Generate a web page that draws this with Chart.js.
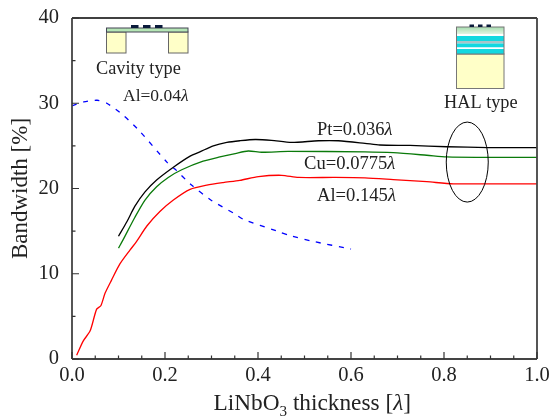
<!DOCTYPE html>
<html>
<head>
<meta charset="utf-8">
<script src="https://cdn.jsdelivr.net/npm/chart.js@4/dist/chart.umd.min.js"></script>
<style>
html, body { margin: 0; padding: 0; background: #fff; }
#wrap { width: 552px; height: 416px; }
</style>
</head>
<body>
<div id="wrap"><canvas id="bwChart" width="552" height="416"></canvas></div>
<script>
// values
let ptX = [0.1, 0.118, 0.135, 0.157, 0.182, 0.218, 0.254, 0.275, 0.304, 0.333, 0.361, 0.394, 0.429, 0.472, 0.53, 0.573, 0.63, 0.662, 0.727, 0.806, 0.895, 1.0];
let ptY = [14.4, 16.1, 17.9, 19.6, 21.0, 22.5, 23.8, 24.3, 25.0, 25.4, 25.6, 25.75, 25.65, 25.4, 25.6, 25.6, 25.3, 25.1, 25.05, 24.9, 24.8, 24.8];

let cuX = [0.1, 0.11, 0.135, 0.157, 0.182, 0.207, 0.236, 0.282, 0.318, 0.351, 0.379, 0.408, 0.465, 0.63, 0.691, 0.763, 0.806, 0.895, 1.0];
let cuY = [13.0, 14.0, 16.6, 18.65, 20.2, 21.3, 22.2, 23.2, 23.7, 24.1, 24.4, 24.25, 24.35, 24.3, 24.2, 23.9, 23.7, 23.65, 23.65];

let alX = [0.01, 0.024, 0.039, 0.053, 0.062, 0.071, 0.085, 0.103, 0.125, 0.139, 0.161, 0.189, 0.218, 0.254, 0.29, 0.325, 0.361, 0.401, 0.451, 0.487, 0.566, 0.63, 0.691, 0.763, 0.82, 1.0];
let alY = [0.43, 2.1, 3.3, 5.85, 6.25, 7.7, 9.25, 11.15, 12.8, 13.8, 15.6, 17.3, 18.65, 19.9, 20.4, 20.7, 20.95, 21.4, 21.55, 21.3, 21.3, 21.25, 21.05, 20.8, 20.55, 20.55];

let cavX = [0.0, 0.025, 0.054, 0.075, 0.11, 0.146, 0.204, 0.222, 0.257, 0.3, 0.351, 0.368, 0.441, 0.467, 0.518, 0.6];
let cavY = [29.7, 30.15, 30.35, 30.0, 28.6, 26.7, 23.1, 22.25, 20.4, 18.6, 17.0, 16.4, 15.0, 14.5, 13.8, 12.9];

let xMajor = [0, 0.2, 0.4, 0.6, 0.8, 1.0];
let yMajor = [0, 10, 20, 30, 40];

const SERIF = '"Liberation Serif", "Times New Roman", serif';
const INK = '#222';

function pts(xs, ys) {
    return xs.map(function (x, i) { return { x: x, y: ys[i] }; });
}

// text made of pieces: plain, italic lambda, subscript
function drawRuns(ctx, runs, x, y, size) {
    ctx.textAlign = 'left';
    ctx.textBaseline = 'alphabetic';
    ctx.fillStyle = INK;
    runs.forEach(function (r) {
        let s = r.sub ? size * 0.65 : size;
        ctx.font = (r.it ? 'italic ' : '') + s + 'px ' + SERIF;
        ctx.fillText(r.t, x, r.sub ? y + size * 0.25 : y);
        x += ctx.measureText(r.t).width;
    });
}

function lam(before) {
    return [{ t: before }, { t: 'λ', it: true }];
}

function box(ctx, x, y, w, h, fill, stroke) {
    ctx.fillStyle = fill;
    ctx.fillRect(x, y, w, h);
    if (stroke) {
        ctx.strokeStyle = stroke;
        ctx.lineWidth = 1;
        ctx.strokeRect(x, y, w, h);
    }
}

function drawCavity(ctx) {
    box(ctx, 106.5, 32, 19.5, 21, '#ffffc8', '#666');
    box(ctx, 168.5, 32, 19.5, 21, '#ffffc8', '#666');
    box(ctx, 106.5, 28, 81.5, 4, '#b5e6b5', '#445');
    [131, 143, 155].forEach(function (x) {
        box(ctx, x, 25, 7.5, 3, '#0a1a3a', null);
    });
}

function drawHal(ctx) {
    let g = ctx.createLinearGradient(0, 27, 0, 34);
    g.addColorStop(0, '#a5dcae');
    g.addColorStop(1, '#e2f4e2');
    box(ctx, 456.5, 54, 47.5, 34.5, '#ffffc8', '#777');
    box(ctx, 456.5, 27, 47.5, 7, g, null);
    box(ctx, 456.5, 34, 47.5, 2, '#fff', null);
    box(ctx, 456.5, 36, 47.5, 5, '#12d8e0', null);
    box(ctx, 456.5, 41, 47.5, 2.5, '#a9c4c8', null);
    box(ctx, 456.5, 43.5, 47.5, 4, '#12d8e0', null);
    box(ctx, 456.5, 47.5, 47.5, 1.5, '#fff', null);
    box(ctx, 456.5, 49, 47.5, 5, '#12d8e0', null);
    ctx.strokeStyle = '#777';
    ctx.lineWidth = 1;
    ctx.strokeRect(456.5, 27, 47.5, 27);
    [469.5, 478, 486.5].forEach(function (x) {
        box(ctx, x, 24.5, 4.5, 2.5, '#0a1a3a', null);
    });
}

// inward ticks, frame, insets and labels
const extras = {
    id: 'extras',
    afterDraw: function (chart) {
        let ctx = chart.ctx;
        let a = chart.chartArea;
        let sx = chart.scales.x;
        let sy = chart.scales.y;
        ctx.save();

        ctx.strokeStyle = '#000';
        ctx.lineWidth = 1.3;
        ctx.beginPath();
        ctx.moveTo(a.left, a.top);
        ctx.lineTo(a.right, a.top);
        ctx.stroke();
        ctx.strokeStyle = '#444';
        ctx.lineWidth = 1.8;
        ctx.beginPath();
        ctx.moveTo(a.right, a.top);
        ctx.lineTo(a.right, a.bottom);
        ctx.moveTo(a.left, a.top);
        ctx.lineTo(a.left, a.bottom);
        ctx.moveTo(a.left, a.bottom);
        ctx.lineTo(a.right, a.bottom);
        ctx.stroke();

        ctx.lineWidth = 1.2;
        ctx.strokeStyle = '#333';
        ctx.beginPath();
        xMajor.forEach(function (v, i) {
            let p = sx.getPixelForValue(v);
            ctx.moveTo(p, a.bottom);
            ctx.lineTo(p, a.bottom - 7);
            if (i < xMajor.length - 1) {
                let step = (xMajor[i + 1] - v) / 4;
                for (let k = 1; k < 4; k++) {
                    let m = sx.getPixelForValue(v + k * step);
                    ctx.moveTo(m, a.bottom);
                    ctx.lineTo(m, a.bottom - 3.5);
                }
            }
        });
        yMajor.forEach(function (v, i) {
            let p = sy.getPixelForValue(v);
            ctx.moveTo(a.left, p);
            ctx.lineTo(a.left + 7, p);
            if (i < yMajor.length - 1) {
                let m = sy.getPixelForValue((v + yMajor[i + 1]) / 2);
                ctx.moveTo(a.left, m);
                ctx.lineTo(a.left + 3.5, m);
            }
        });
        ctx.stroke();

        drawCavity(ctx);
        drawHal(ctx);

        drawRuns(ctx, [{ t: 'Cavity type' }], 96, 74, 18.3);
        drawRuns(ctx, lam('Al=0.04'), 123, 100.5, 17.5);
        drawRuns(ctx, [{ t: 'HAL type' }], 444, 107.5, 18.3);
        drawRuns(ctx, lam('Pt=0.036'), 317, 135, 18.5);
        drawRuns(ctx, lam('Cu=0.0775'), 304, 169, 18.6);
        drawRuns(ctx, lam('Al=0.145'), 317, 201, 18.6);

        // ellipse round the HAL curves
        ctx.strokeStyle = '#000';
        ctx.lineWidth = 1;
        ctx.beginPath();
        ctx.ellipse(sx.getPixelForValue(0.85), sy.getPixelForValue(23.1), 21, 40, 0, 0, Math.PI * 2);
        ctx.stroke();

        drawRuns(ctx, [
            { t: 'LiNbO' }, { t: '3', sub: true }, { t: ' thickness [' }, { t: 'λ', it: true }, { t: ']' }
        ], 213.5, 410, 23.3);

        ctx.restore();
    }
};

new Chart(document.getElementById('bwChart'), {
    type: 'scatter',
    data: {
        datasets: [
            { label: 'Pt=0.036λ', data: pts(ptX, ptY), borderColor: '#000' },
            { label: 'Cu=0.0775λ', data: pts(cuX, cuY), borderColor: '#0a7a0a' },
            { label: 'Al=0.145λ', data: pts(alX, alY), borderColor: '#ff0000' },
            { label: 'Al=0.04λ', data: pts(cavX, cavY), borderColor: '#0000ff', borderDash: [5, 6.7] }
        ]
    },
    options: {
        responsive: false,
        animation: false,
        showLine: true,
        layout: { padding: { left: 0, right: 15, top: 18, bottom: 0 } },
        elements: {
            point: { radius: 0 },
            line: { borderWidth: 1.3, fill: false, tension: 0.25 }
        },
        plugins: { legend: { display: false }, tooltip: { enabled: false } },
        scales: {
            x: {
                type: 'linear',
                min: 0,
                max: 1,
                grid: { display: false },
                border: { display: false },
                afterFit: function (s) { s.height = 57; },
                ticks: {
                    stepSize: 0.2,
                    maxRotation: 0,
                    padding: -4,
                    color: INK,
                    font: { family: SERIF, size: 20.5 },
                    callback: function (v) { return v.toFixed(1); }
                }
            },
            y: {
                min: 0,
                max: 40,
                grid: { display: false },
                border: { display: false },
                afterFit: function (s) { s.width = 72; },
                title: {
                    display: true,
                    text: 'Bandwidth [%]',
                    color: INK,
                    padding: { top: 7, bottom: 0 },
                    font: { family: SERIF, size: 23 }
                },
                ticks: {
                    stepSize: 10,
                    padding: 5,
                    color: INK,
                    font: { family: SERIF, size: 20.5 }
                }
            }
        }
    },
    plugins: [extras]
});
</script>
</body>
</html>
